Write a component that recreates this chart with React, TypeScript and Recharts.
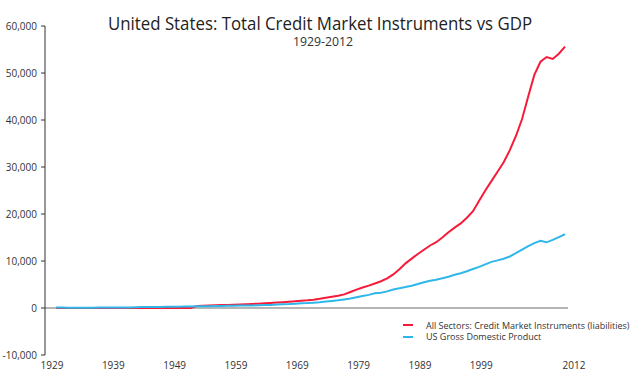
import React from 'react';
import { LineChart, Line, XAxis, YAxis, ReferenceLine, Legend } from 'recharts';

// one value per year, 1929-2012 (billions of dollars)
const YEARS = [
  1929,
  1930, 1931, 1932, 1933, 1934, 1935, 1936, 1937, 1938, 1939,
  1940, 1941, 1942, 1943, 1944, 1945, 1946, 1947, 1948, 1949,
  1950, 1951, 1952, 1953, 1954, 1955, 1956, 1957, 1958, 1959,
  1960, 1961, 1962, 1963, 1964, 1965, 1966, 1967, 1968, 1969,
  1970, 1971, 1972, 1973, 1974, 1975, 1976, 1977, 1978, 1979,
  1980, 1981, 1982, 1983, 1984, 1985, 1986, 1987, 1988, 1989,
  1990, 1991, 1992, 1993, 1994, 1995, 1996, 1997, 1998, 1999,
  2000, 2001, 2002, 2003, 2004, 2005, 2006, 2007, 2008, 2009,
  2010, 2011, 2012,
];

const CREDIT = [
  0,
  0, 0, 0, 0, 0, 0, 0, 0, 0, 0,
  0, 0, 0, 0, 0, 0, 0, 0, 0, 0,
  0, 0, 450, 490, 530, 580, 620, 660, 700, 760,
  810, 860, 930, 1000, 1080, 1160, 1240, 1330, 1430, 1530,
  1640, 1780, 1960, 2180, 2400, 2620, 2900, 3400, 3900, 4350,
  4750, 5220, 5700, 6300, 7150, 8250, 9500, 10500, 11500, 12400,
  13300, 14000, 15000, 16100, 17100, 18000, 19200, 20600, 22800, 25000,
  27000, 29000, 31000, 33600, 36600, 40200, 45000, 49600, 52400, 53400,
  53000, 54100, 55600,
];

const GDP = [
  104,
  91, 77, 59, 56, 66, 73, 84, 92, 86, 92,
  101, 127, 162, 199, 220, 223, 222, 244, 269, 267,
  294, 339, 358, 379, 380, 415, 437, 461, 467, 507,
  526, 545, 586, 618, 664, 719, 788, 833, 910, 985,
  1039, 1127, 1238, 1383, 1500, 1638, 1825, 2031, 2295, 2563,
  2790, 3128, 3255, 3537, 3933, 4220, 4463, 4740, 5104, 5484,
  5803, 5996, 6338, 6657, 7072, 7398, 7817, 8304, 8747, 9268,
  9817, 10128, 10470, 10961, 11686, 12422, 13178, 13808, 14292, 13974,
  14499, 15076, 15685,
];

const X_TICKS = [1929, 1939, 1949, 1959, 1969, 1979, 1989, 1999, 2009, 2012];
const Y_TICKS = [-10000, 0, 10000, 20000, 30000, 40000, 50000, 60000];

const CREDIT_NAME = 'All Sectors: Credit Market Instruments (liabilities)';
const GDP_NAME = 'US Gross Domestic Product';

const data = YEARS.map((year, i) => ({ year, credit: CREDIT[i], gdp: GDP[i] }));

const FONT = '"Open Sans", sans-serif';

const XTick = (props: any) => {
  const { x, y, payload } = props;
  const shift = payload.value === 2012 ? 9 : -4;
  return (
    <text x={x + shift} y={y} dy={7} textAnchor="middle" fontSize={10} fill="#333" fontFamily={FONT}>
      {payload.value}
    </text>
  );
};

const LegendBox = (props: any) => {
  const { payload } = props;
  return (
    <div style={{ fontFamily: FONT, fontSize: 9, color: '#333', lineHeight: '11.6px' }}>
      {(payload || []).map((item: any) => (
        <div key={item.value} style={{ display: 'flex', alignItems: 'center', height: 11.6 }}>
          <span style={{ display: 'inline-block', width: 10, height: 2, background: item.color, marginRight: 13 }} />
          <span style={{ whiteSpace: 'nowrap' }}>{item.value}</span>
        </div>
      ))}
    </div>
  );
};

export default function App() {
  return (
    <div style={{ position: 'absolute', left: 0, top: 0, width: 640, height: 376, background: '#fff' }}>
      <LineChart width={640} height={376} data={data} margin={{ top: 26, right: 72, left: 0, bottom: 0 }}>
        <XAxis
          dataKey="year"
          type="number"
          domain={[1929, 2012]}
          ticks={X_TICKS}
          tick={<XTick />}
          axisLine={false}
          tickLine={false}
          tickMargin={1}
          height={21}
          padding={{ left: 11, right: 3 }}
        />
        <YAxis
          type="number"
          domain={[-10000, 60000]}
          ticks={Y_TICKS}
          width={45}
          tickSize={4}
          tickMargin={4}
          stroke="#333"
          tick={{ fontSize: 10, fill: '#333', fontFamily: FONT }}
          tickFormatter={(v: number) => v.toLocaleString('en-US')}
          interval={0}
        />
        <ReferenceLine y={0} stroke="#9c9c9c" strokeWidth={1.5} />
        <Legend
          layout="horizontal"
          verticalAlign="middle"
          align="center"
          content={<LegendBox />}
          wrapperStyle={{ position: 'absolute', left: 403, top: 319.5, width: 230, height: 24 }}
        />
        <Line
          type="linear"
          dataKey="credit"
          name={CREDIT_NAME}
          stroke="#f71b3a"
          strokeWidth={2}
          dot={false}
          isAnimationActive={false}
        />
        <Line
          type="linear"
          dataKey="gdp"
          name={GDP_NAME}
          stroke="#2fb7ea"
          strokeWidth={2}
          dot={false}
          isAnimationActive={false}
        />
      </LineChart>
      <svg width={640} height={60} style={{ position: 'absolute', left: 0, top: 0, pointerEvents: 'none' }}>
        <text x={320} y={30} textAnchor="middle" fontSize={18.5} fill="#222" fontFamily={FONT}
          textLength={424} lengthAdjust="spacingAndGlyphs">
          United States: Total Credit Market Instruments vs GDP
        </text>
        <text x={323} y={46} textAnchor="middle" fontSize={12} fill="#333" fontFamily={FONT}
          textLength={60} lengthAdjust="spacingAndGlyphs">
          1929-2012
        </text>
      </svg>
    </div>
  );
}
